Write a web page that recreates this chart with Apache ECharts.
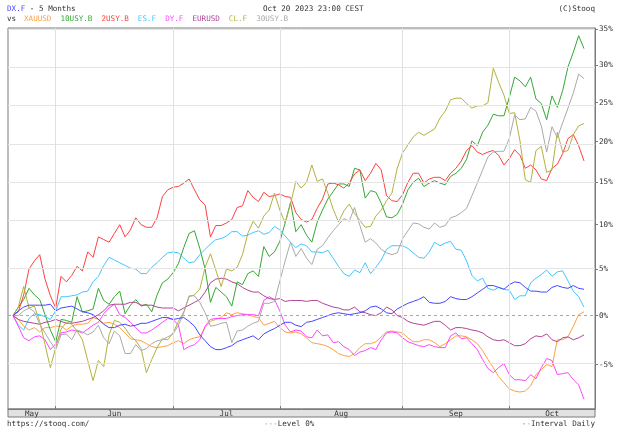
<!DOCTYPE html>
<html>
<head>
<meta charset="utf-8">
<script src="https://cdn.jsdelivr.net/npm/echarts@6/dist/echarts.min.js"></script>
<style>
  html, body { margin: 0; padding: 0; background: #ffffff; }
  #chart { width: 625px; height: 432px; }
</style>
</head>
<body>
<div id="chart"></div>
<script>
// ---------- DATA ----------
const tradingDays = {
  '2023-05': [19,22,23,24,25,26,30,31],
  '2023-06': [1,2,5,6,7,8,9,12,13,14,15,16,19,20,21,22,23,26,27,28,29,30],
  '2023-07': [3,5,6,7,10,11,12,13,14,17,18,19,20,21,24,25,26,27,28,31],
  '2023-08': [1,2,3,4,7,8,9,10,11,14,15,16,17,18,21,22,23,24,25,28,29,30,31],
  '2023-09': [1,5,6,7,8,11,12,13,14,15,18,19,20,21,22,25,26,27,28,29],
  '2023-10': [2,3,4,5,6,9,10,11,12,13,16,17,18,19,20]
};
const monthNames = ['May','Jun','Jul','Aug','Sep','Oct'];
const yTickPct = [-5,0,5,10,15,20,25,30,35];

// % change since start
const dxF = [0,0.5,0.9,1.1,1.1,1.1,1.1,1.2,0.5,0.8, 0.9,1.0,0.7,0.4,0.3,0.1,-0.4,-0.9,-1.25,-1.25, -1.0,-0.9,-1.1,-1.0,-0.8,-0.8,-0.6,-0.4,-0.2,-0.2, -0.4,-0.3,-0.2,-0.6,-1.1,-2.0,-2.6,-3.2,-3.5,-3.5, -3.3,-3.1,-2.7,-2.5,-2.3,-2.1,-2.5,-1.9,-1.6,-1.35, -1.0,-0.7,-0.7,-1.0,-1.15,-0.7,-0.6,-0.4,-0.2,0, 0.2,0.3,0.2,0.1,0.2,0.3,0.5,0.9,1.0,0.7, 0.3,0.2,0.7,1.0,1.3,1.5,1.7,2.0,1.4,1.3, 1.3,1.5,2.0,1.8,1.7,1.7,2.0,2.4,2.8,3.2, 3.2,3.0,2.8,3.3,3.6,3.5,3.0,2.6,2.6,2.5, 2.5,3.0,3.2,3.0,2.9,3.2,2.9,2.8];
const xauusd = [0,-0.4,-1.1,-1.5,-1.25,-1.7,-1.25,-1.25,-1.1,-1.1, -1.5,-1.1,-0.9,-0.9,-0.8,-0.2,-0.4,-0.8,-0.7,-0.9, -1.25,-1.8,-2.4,-2.5,-2.6,-2.9,-3.2,-3.3,-3.2,-3.1, -2.8,-2.6,-2.9,-2.5,-2.3,-2.2,-1.25,-0.6,-0.4,-0.2, 0.3,0.1,0.3,0.2,0.1,-0.1,-0.2,-1.0,-0.8,-0.6, -1.25,-1.7,-1.8,-1.7,-1.9,-2.3,-2.8,-2.9,-3.0,-3.2, -3.5,-3.9,-4.1,-4.2,-3.9,-3.3,-2.9,-2.9,-2.7,-2.2, -1.7,-1.6,-1.7,-1.8,-2.3,-2.7,-2.7,-2.5,-2.5,-2.8, -3.2,-2.9,-2.5,-2.1,-2.1,-2.2,-2.5,-2.9,-3.6,-4.5, -5.3,-6.2,-6.8,-7.4,-7.6,-7.7,-7.6,-7.1,-6.0,-5.5, -5.0,-5.2,-2.5,-2.5,-2.2,-1.1,0.1,0.4];
const us10y = [0,0.9,1.7,2.9,2.2,1.7,0.1,-1.5,-2.7,-0.4, -0.5,-0.7,2.0,0.4,0.5,0.7,2.9,1.6,1.2,2.0, 2.6,0.2,1.1,1.7,1.0,1.2,0.4,2.2,3.5,3.9, 4.6,5.6,7.4,9.0,9.3,7.3,5.0,1.4,3.0,2.5, 2.0,1.0,3.6,3.3,4.5,4.8,4.2,7.5,6.4,6.9, 8.1,10.2,12.6,9.2,10.0,8.8,8.0,10.3,11.7,13.0, 13.9,14.8,14.8,14.5,16.7,16.5,13.1,14.0,13.8,12.5, 10.9,10.8,11.2,12.4,14.1,15.0,15.5,14.5,14.9,15.2, 14.9,14.7,15.7,16.1,16.7,17.8,20.1,19.5,21.2,22.1, 23.5,23.3,23.3,25.7,28.4,27.9,27.1,28.4,25.5,24.9, 22.8,25.9,24.4,26.6,29.8,31.8,34.1,32.3];
const us2y = [0,0.4,2.2,5.0,5.9,6.6,3.9,2.1,0.8,4.2, 3.6,4.3,5.3,4.8,6.9,6.3,8.6,8.3,8.0,9.0, 10.0,8.6,9.4,10.8,10.0,9.7,9.7,10.8,13.3,14.1, 14.4,14.5,14.9,15.4,14.1,12.9,12.3,8.6,9.9,9.9, 10.2,10.6,12.0,12.2,14.0,13.2,12.7,13.8,13.3,13.4, 13.6,13.3,13.2,11.4,10.6,10.3,10.6,11.9,13.0,14.8, 14.9,14.7,14.3,14.9,16.0,16.5,15.2,16.1,17.3,16.5, 13.4,12.8,12.7,13.5,15.0,16.1,16.1,14.9,15.4,15.6, 15.6,15.2,16.1,16.7,17.6,18.9,19.5,18.7,18.4,18.7, 18.9,18.3,17.1,17.9,19.0,18.3,16.7,17.1,16.5,15.4, 15.2,16.7,17.2,18.5,20.4,20.9,19.5,17.6];
const esF = [0,-1.0,-1.5,-0.3,0.2,0.1,-0.1,-0.4,0.5,2.0, 2.0,2.1,2.2,2.5,2.6,3.6,4.2,5.4,6.3,6.0, 5.7,5.4,5.1,5.0,4.5,4.5,5.2,5.7,6.3,6.8, 6.9,6.8,6.2,5.7,5.8,6.6,7.2,7.8,8.3,8.4, 8.7,9.2,9.2,8.7,8.8,9.1,9.3,8.9,9.1,9.8, 9.4,8.7,8.0,7.4,7.8,7.6,6.9,6.9,6.8,7.1, 6.2,5.3,4.5,4.2,4.9,4.6,5.7,4.5,5.2,6.0, 7.2,7.6,7.6,7.6,7.3,6.8,6.3,6.2,6.9,8.0, 7.6,7.9,8.1,7.2,7.1,5.9,4.3,3.7,4.0,2.9, 2.7,3.0,2.8,2.7,1.7,2.1,2.1,3.5,4.0,4.4, 4.9,4.2,4.7,4.8,3.7,2.6,2.0,0.9];
const dyF = [0,-1.1,-2.3,-2.6,-2.2,-2.1,-2.5,-3.5,-2.9,-1.8, -1.7,-1.5,-1.6,-1.8,-1.4,-1.0,-0.7,0.2,0.8,1.2, 0.1,-0.2,-0.7,-1.25,-1.8,-1.8,-1.5,-1.1,-0.7,-0.3, -0.4,-1.0,-3.5,-3.2,-3.0,-2.5,-1.1,-0.4,-0.3,-0.3, -0.3,-0.1,0,0.1,0.1,0.1,0,1.6,2.0,1.7, 0.5,-1.0,-1.7,-1.5,-1.6,-2.2,-2.3,-1.5,-2.1,-2.0, -2.8,-2.7,-3.2,-3.5,-4.1,-3.75,-3.6,-3.3,-3.5,-2.5, -1.8,-1.7,-1.8,-2.3,-2.7,-2.9,-3.1,-3.2,-3.0,-3.2, -3.3,-3.3,-2.1,-1.8,-2.4,-2.3,-2.9,-3.5,-4.5,-5.4, -5.8,-5.3,-4.9,-6.0,-6.5,-6.5,-6.6,-6.0,-6.4,-5.3, -4.4,-4.6,-6.0,-5.9,-5.8,-6.5,-7.0,-8.4];
const eurusd = [0,-0.4,-0.6,-0.7,-0.8,-0.9,-0.7,-0.6,-0.4,-0.6, -0.8,-0.8,-0.7,-0.6,-0.4,-0.2,0.1,0.5,1.1,1.2, 1.2,1.2,1.4,1.4,1.1,1.1,1.1,0.9,0.8,0.8, 0.8,0.5,0.8,1.1,1.4,1.7,2.5,3.5,3.9,4.0, 3.9,3.6,3.4,3.0,2.7,2.5,2.5,2.1,1.8,1.7, 1.8,1.5,1.6,1.6,1.6,1.5,1.6,1.6,1.3,1.1, 0.9,0.8,0.6,0.6,0.9,0.4,0.3,0.1,0,0.3, 0.9,0.6,0,-0.2,-0.6,-0.8,-0.9,-1.0,-0.8,-0.6, -0.6,-1.0,-1.5,-1.25,-1.25,-1.35,-1.5,-1.6,-1.8,-2.2, -2.5,-2.6,-2.5,-2.8,-3.1,-3.1,-2.9,-2.4,-2.1,-2.2, -1.9,-2.5,-2.7,-2.3,-2.2,-2.5,-2.3,-2.0];
const clF = [0,0.9,3.1,0.8,1.0,-0.6,-3.0,-5.3,-3.3,-1.4, -0.7,-0.9,-1.6,-2.5,-4.6,-6.6,-4.6,-5.2,-2.0,-0.5, -0.7,-1.3,-2.1,-2.6,-3.4,-5.8,-4.5,-3.3,-2.4,-2.5, -1.8,-0.6,0.4,2.0,2.2,2.8,5.2,6.7,4.9,3.1, 5.0,4.8,5.2,6.6,9.0,10.4,9.6,11.0,11.7,13.7, 11.7,10.2,12.4,15.1,14.3,15.0,17.1,15.1,15.4,13.7, 11.8,10.3,11.6,12.4,11.3,10.5,9.7,9.8,11.0,11.7, 12.8,13.7,16.7,18.6,19.6,20.6,21.2,20.8,21.2,21.6, 23.0,23.9,25.4,25.6,25.6,24.9,24.3,24.6,24.6,25.0, 29.6,27.7,26.0,23.6,23.7,20.1,15.3,15.0,18.9,19.4, 16.2,16.5,21.2,18.7,18.9,20.9,22.0,22.3];
const us30y = [0,0,0.5,0.8,0.4,-0.9,-1.8,-2.7,-3.5,-2.0, -1.9,-2.5,-1.5,-1.7,-2.0,-1.7,-1.0,-2.3,-2.9,-1.6, -2.1,-3.9,-3.9,-3.0,-3.6,-3.4,-2.9,-2.6,-2.5,-2.2, -1.9,-1.0,0.3,2.1,2.1,1.4,0.3,-1.1,-1.0,-0.8, -0.7,-2.8,-1.6,-1.5,-1.1,-0.8,-0.6,1.3,1.3,1.5, 3.7,5.9,8.0,6.4,7.3,6.2,5.5,7.2,7.6,8.5, 9.3,10.0,10.7,10.4,12.0,9.9,8.0,8.4,7.9,7.2, 6.8,6.6,6.8,8.4,9.3,10.2,10.1,9.7,9.5,10.2, 9.7,9.9,10.8,11.0,11.4,11.9,13.4,14.9,16.5,18.1, 18.7,18.8,18.8,20.4,23.4,22.8,22.9,24.4,23.9,22.0, 18.7,21.9,20.5,22.4,24.3,26.3,28.8,28.2];

const seriesNames = ['XAUUSD','10USY.B','2USY.B','ES.F','DY.F','EURUSD','CL.F','30USY.B'];
const seriesValues = [xauusd, us10y, us2y, esF, dyF, eurusd, clF, us30y];
const mainName = 'DX.F';

// ---------- STYLE ----------
const colors = {
  'DX.F': '#4646ff', 'XAUUSD': '#ffa040', '10USY.B': '#34a834', '2USY.B': '#ff4040',
  'ES.F': '#40c8ff', 'DY.F': '#ff44ff', 'EURUSD': '#b04498', 'CL.F': '#b4b040', '30USY.B': '#aaaaaa'
};
const FONT = 'DejaVu Sans Mono, Liberation Mono, monospace';
const FS = 7.6;
const TXT = '#333333';
const txt = (color) => ({ color: color, fontFamily: FONT, fontSize: FS, fontWeight: 'normal' });

// ---------- DERIVED ----------
const dates = [];
const monthStart = [];
Object.keys(tradingDays).forEach(m => {
  monthStart.push(dates.length);
  tradingDays[m].forEach(d => dates.push(m + '-' + String(d).padStart(2, '0')));
});
const X_MIN = -0.94;
const X_MAX = dates.length - 1 + 2.06;
const monthCenters = monthStart.map((s, k) => {
  const a = k === 0 ? X_MIN : s;
  const b = k === monthStart.length - 1 ? X_MAX : monthStart[k + 1];
  return (a + b) / 2;
});
const tr = p => Math.log(1 + p / 100);
const yTickVals = yTickPct.map(tr);
const Y_MIN = -0.0979, Y_MAX = 0.3015;

const toData = vals => vals.map((v, i) => [i, tr(v)]);

const lineSeries = seriesNames.map((n, k) => ({
  name: n, type: 'line', data: toData(seriesValues[k]), symbol: 'none',
  lineStyle: { width: 1, color: colors[n] }, itemStyle: { color: colors[n] },
  z: 3, silent: true
}));
lineSeries.push({
  name: mainName, type: 'line', data: toData(dxF), symbol: 'none',
  lineStyle: { width: 1, color: colors[mainName] }, itemStyle: { color: colors[mainName] },
  z: 4, silent: true
});

const gridSeries = {
  name: '_grid', type: 'line', data: [], z: 1, silent: true,
  markLine: {
    silent: true, symbol: ['none', 'none'], animation: false,
    label: { show: false },
    data: [
      ...yTickPct.filter(t => t !== 0).map(t => ({ yAxis: tr(t), lineStyle: { color: '#e4e4e4', width: 1, type: 'solid' } })),
      ...monthStart.slice(1).map(s => ({ xAxis: s, lineStyle: { color: '#e0e0e0', width: 1, type: 'solid' } })),
      { yAxis: 0, lineStyle: { color: '#a8a8a8', width: 1, type: [3, 3] } }
    ]
  }
};

const chart = echarts.init(document.getElementById('chart'), null, { renderer: 'canvas' });
chart.setOption({
  animation: false,
  backgroundColor: '#ffffff',
  title: [
    { left: 7, top: 5, padding: 0, text: '{m|' + mainName + '}{t| - 5 Months}',
      textStyle: Object.assign(txt(TXT), { rich: { m: txt(colors[mainName]), t: txt(TXT) } }) },
    { left: 263, top: 5, padding: 0, text: 'Oct 20 2023 23:00 CEST', textStyle: txt(TXT) },
    { right: 30, top: 5, padding: 0, text: '(C)Stooq', textStyle: txt(TXT) },
    { left: 7, top: 15, padding: 0, text: 'vs', textStyle: txt(TXT) },
    { left: 7, top: 420, padding: 0, text: 'https://stooq.com/', textStyle: txt(TXT) },
    { left: 264, top: 420, padding: 0, text: '{d|---}{t|Level 0%}',
      textStyle: Object.assign(txt(TXT), { rich: { d: txt('#999999'), t: txt(TXT) } }) },
    { right: 30, top: 420, padding: 0, text: '{d|--}{t|Interval Daily}',
      textStyle: Object.assign(txt(TXT), { rich: { d: txt('#999999'), t: txt(TXT) } }) }
  ],
  legend: {
    left: 19, top: 15, padding: 0, itemGap: 4, itemWidth: 0, itemHeight: 8, icon: 'none',
    selectedMode: false,
    textStyle: { fontFamily: FONT, fontSize: FS },
    data: seriesNames.map(n => ({ name: n, textStyle: { color: colors[n] } }))
  },
  grid: {
    left: 8, right: 30, top: 28, bottom: 23,
    show: true, borderColor: '#7a7a7a', borderWidth: 1, backgroundColor: 'transparent',
    outerBoundsMode: 'none', containLabel: false
  },
  xAxis: {
    type: 'value', min: X_MIN, max: X_MAX, position: 'bottom', z: 5,
    axisLine: { show: true, onZero: false, lineStyle: { color: '#7a7a7a', width: 1 } },
    axisTick: { show: true, inside: true, length: 3, customValues: monthStart.slice(1), lineStyle: { color: '#7a7a7a' } },
    axisLabel: {
      show: true, customValues: monthCenters, margin: 1,
      color: TXT, fontFamily: FONT, fontSize: FS,
      formatter: v => {
        let best = 0;
        monthCenters.forEach((c, k) => { if (Math.abs(c - v) < Math.abs(monthCenters[best] - v)) best = k; });
        return monthNames[best];
      }
    },
    splitLine: { show: false }
  },
  yAxis: {
    type: 'value', position: 'right', min: Y_MIN, max: Y_MAX, z: 5,
    axisLine: { show: true, onZero: false, lineStyle: { color: '#7a7a7a', width: 1 } },
    axisTick: { show: true, inside: false, length: 3, customValues: yTickVals, lineStyle: { color: '#7a7a7a' } },
    axisLabel: {
      show: true, customValues: yTickVals, margin: 4,
      color: TXT, fontFamily: FONT, fontSize: FS,
      formatter: v => Math.round((Math.exp(v) - 1) * 100) + '%'
    },
    splitLine: { show: false }
  },
  graphic: [
    { type: 'rect', z: 2, silent: true,
      shape: { x: 8, y: 409, width: 587, height: 8 },
      style: { fill: '#e2e2e2', stroke: '#7a7a7a', lineWidth: 1 } }
  ],
  series: [gridSeries, ...lineSeries]
});
</script>
</body>
</html>
